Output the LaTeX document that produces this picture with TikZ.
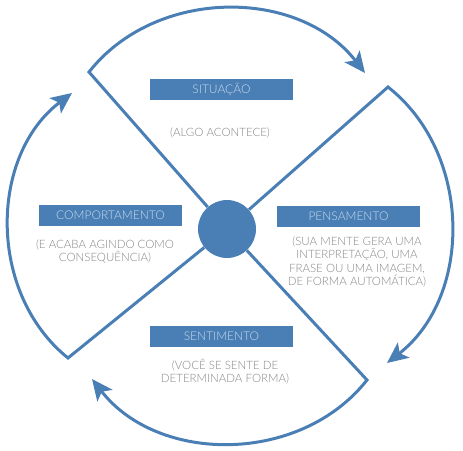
\documentclass[tikz,border=0pt]{standalone}
\usepackage{fontspec}
\setmainfont{Lato Light}
\usetikzlibrary{arrows.meta,positioning}
\definecolor{Azul}{HTML}{4A7FB6}
\definecolor{Claro}{HTML}{C9D9EC}
\definecolor{Cinza}{HTML}{858585}

\begin{document}
\begin{tikzpicture}[x=1pt,y=-1pt,
  rotulo/.style={fill=Azul,text=Claro,minimum width=143pt,minimum height=21pt,inner sep=0pt,font=\fontsize{12}{13}\selectfont},
  desc/.style={text=Cinza,align=center,inner sep=0pt,font=\fontsize{11.5}{13.3}\selectfont},
  seta/.style={Azul,line width=3pt,line join=miter,-{Stealth[length=21pt,width=19pt,inset=5pt]}}]
  \useasboundingbox (0,0) rectangle (463,450);
  % centro e cantos
  \node[circle,fill=Azul,minimum size=58pt,inner sep=0pt] (centro) at (227,229) {};
  \coordinate (cantoNO) at (89,72);
  \coordinate (cantoNE) at (388,87);
  \coordinate (cantoSE) at (367,380);
  \coordinate (cantoSO) at (68,358);
  \coordinate (pontaN) at (365,73);
  \coordinate (pontaL) at (387,363);
  \coordinate (pontaS) at (92,379);
  \coordinate (pontaO) at (72,93);
  % ciclo
  \draw[seta] (centro) -- (cantoNO) to[bend left=52] (pontaN);
  \draw[seta] (centro) -- (cantoNE) to[bend left=52] (pontaL);
  \draw[seta] (centro) -- (cantoSE) to[bend left=52] (pontaS);
  \draw[seta] (centro) -- (cantoSO) to[bend left=52] (pontaO);
  % etapas
  \node[rotulo] (sit) at (221.5,89.5) {SITUAÇÃO};
  \node[desc] (sitdesc) at (220,133) {(ALGO ACONTECE)};
  \node[rotulo] (pens) at (348.5,216.5) {PENSAMENTO};
  \node[desc] (pensdesc) at (357,262) {(SUA MENTE GERA UMA\\INTERPRETAÇÃO, UMA\\FRASE OU UMA IMAGEM,\\DE FORMA AUTOMÁTICA)};
  \node[rotulo] (sent) at (221.5,336.5) {SENTIMENTO};
  \node[desc] (sentdesc) at (225,371.5) {(VOCÊ SE SENTE DE\\DETERMINADA FORMA)};
  \node[rotulo] (comp) at (110.5,215.5) {COMPORTAMENTO};
  \node[desc] (compdesc) at (105,251.5) {(E ACABA AGINDO COMO\\CONSEQUÊNCIA)};
\end{tikzpicture}
\end{document}
